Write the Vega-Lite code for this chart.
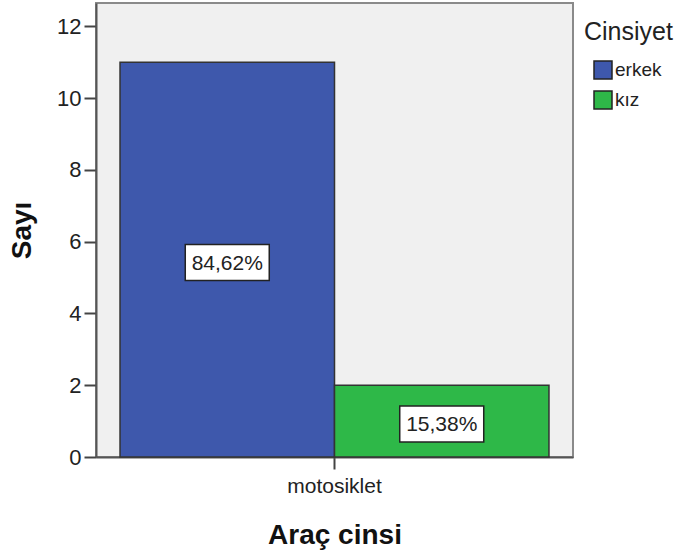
{
  "$schema": "https://vega.github.io/schema/vega-lite/v6.json",
  "autosize": {"type": "none"},
  "padding": {"left": 96, "top": 3, "right": 108, "bottom": 101},
  "width": 477,
  "height": 454,
  "background": "white",
  "config": {
    "font": "Liberation Sans",
    "view": {"fill": "#F0F0F0", "stroke": "#8a8a8a", "strokeWidth": 2},
    "axis": {"grid": false, "domainColor": "#555", "domainWidth": 2, "tickColor": "#444", "tickWidth": 2, "tickSize": 12, "labelColor": "#222", "titleColor": "#111", "titleFont": "Liberation Sans", "titleFontWeight": "bold", "titleFontSize": 28}
  },
  "data": {
    "values": [
      {"arac": "motosiklet", "cinsiyet": "erkek", "sayi": 11, "yuzde": "84,62%"},
      {"arac": "motosiklet", "cinsiyet": "kız", "sayi": 2, "yuzde": "15,38%"}
    ]
  },
  "encoding": {
    "x": {"field": "arac", "type": "nominal", "scale": {"paddingOuter": 0.056, "paddingInner": 0},
      "axis": {"title": "Araç cinsi", "labelAngle": 0, "labelFontSize": 21, "labelPadding": 6, "titlePadding": 25}},
    "xOffset": {"field": "cinsiyet", "type": "nominal", "scale": {"paddingInner": 0, "paddingOuter": 0}}
  },
  "layer": [
    {
      "mark": {"type": "bar", "stroke": "#333", "strokeWidth": 1.5, "opacity": 1},
      "encoding": {
        "y": {"field": "sayi", "type": "quantitative", "scale": {"domain": [0, 12.65], "nice": false},
          "axis": {"title": "Sayı", "values": [0, 2, 4, 6, 8, 10, 12], "labelFontSize": 22, "labelPadding": 3, "titlePadding": 20}},
        "color": {"field": "cinsiyet", "type": "nominal",
          "scale": {"domain": ["erkek", "kız"], "range": ["#3E58AC", "#2EB848"]},
          "legend": {"orient": "none", "legendX": 488, "legendY": 17, "title": "Cinsiyet", "titleFontSize": 25, "titleFontWeight": "normal", "titleColor": "#222", "titlePadding": 15, "labelFontSize": 19, "labelColor": "#222", "symbolType": "square", "symbolSize": 324, "symbolStrokeColor": "#222", "symbolStrokeWidth": 1.5, "symbolOpacity": 1, "symbolOffset": 9, "labelOffset": 2, "rowPadding": 6, "padding": 0}}
      }
    },
    {
      "transform": [{"calculate": "datum.sayi / 2", "as": "orta"}],
      "mark": {"type": "point", "shape": "M-1,-0.357H1V0.5H-1Z", "size": 7056, "filled": true, "fill": "white", "stroke": "#222", "strokeWidth": 1.5, "opacity": 1},
      "encoding": {
        "y": {"field": "orta", "type": "quantitative"}
      }
    },
    {
      "transform": [{"calculate": "datum.sayi / 2", "as": "orta"}],
      "mark": {"type": "text", "fontSize": 21, "color": "#222", "baseline": "middle", "dy": 4},
      "encoding": {
        "y": {"field": "orta", "type": "quantitative"},
        "text": {"field": "yuzde", "type": "nominal"}
      }
    }
  ]
}
